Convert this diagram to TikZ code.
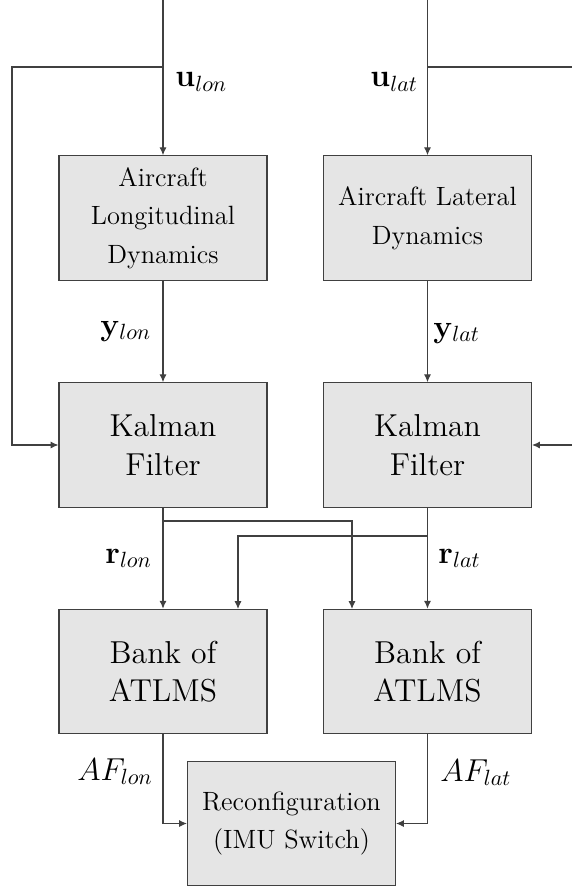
\documentclass[tikz,border=0pt]{standalone}
\usetikzlibrary{arrows.meta}
\begin{document}
\begin{tikzpicture}[x=0.454pt,y=-0.454pt,
  blk/.style={draw=black!75, line width=0.5pt, fill=black!10, align=center,
    inner sep=0pt, minimum width=94.4pt, minimum height=56.5pt},
  smalltxt/.style={font=\fontsize{12}{17.5}\selectfont},
  bigtxt/.style={font=\fontsize{14.4}{17.5}\selectfont},
  lbl/.style={inner sep=0pt, anchor=base west, font=\Large},
  conn/.style={draw=black!75, line width=0.5pt},
  arr/.style={conn, -{Latex[length=3.6pt,width=3.2pt]}}]
\useasboundingbox (0,0) rectangle (572,888);

% blocks
\node[blk, smalltxt] (adlon) at (163,218) {Aircraft\\Longitudinal\\Dynamics};
\node[blk, smalltxt] (adlat) at (427.5,218) {Aircraft Lateral\\Dynamics};
\node[blk, bigtxt] (kflon) at (163,445) {Kalman\\Filter};
\node[blk, bigtxt] (kflat) at (427.5,445) {Kalman\\Filter};
\node[blk, bigtxt] (bklon) at (163,671.5) {Bank of\\ATLMS};
\node[blk, bigtxt] (bklat) at (427.5,671.5) {Bank of\\ATLMS};
\node[blk, smalltxt] (reconf) at (291.5,823.5) {Reconfiguration\\(IMU Switch)};

% free ends and junctions
\coordinate (inlon) at (163,0);
\coordinate (inlat) at (427.5,0);
\coordinate (splon) at (163,67);
\coordinate (splat) at (427.5,67);
\coordinate (lcorner) at (12,67);
\coordinate (redge) at (572,67);
\coordinate (rin) at (572,445);
\coordinate (jlon) at (163,521);
\coordinate (jlat) at (427.5,536);
\coordinate (xlat) at (352,609);
\coordinate (xlon) at (238,609);

% inputs
\draw[arr] (inlon) -- (adlon.north);
\draw[arr] (inlat) -- (adlat.north);
\draw[arr] (splon) -- (lcorner) |- (kflon.west);
\draw[conn] (splat) -- (redge);
\draw[arr] (rin) -- (kflat.east);

% outputs of the dynamics
\draw[arr] (adlon.south) -- (kflon.north);
\draw[arr] (adlat.south) -- (kflat.north);

% residuals
\draw[arr] (kflon.south) -- (bklon.north);
\draw[arr] (kflat.south) -- (bklat.north);
\draw[arr] (jlon) -| (xlat);
\draw[arr] (jlat) -| (xlon);

% fault decisions
\draw[arr] (bklon.south) |- (reconf.west);
\draw[arr] (bklat.south) |- (reconf.east);

% signal labels
\node[lbl] (ulon) at (175,87) {$\mathbf{u}_{lon}$};
\node[lbl] (ulat) at (370,87) {$\mathbf{u}_{lat}$};
\node[lbl] (ylon) at (100,335) {$\mathbf{y}_{lon}$};
\node[lbl] (ylat) at (433,337) {$\mathbf{y}_{lat}$};
\node[lbl] (rlon) at (105,563) {$\mathbf{r}_{lon}$};
\node[lbl] (rlat) at (438,563) {$\mathbf{r}_{lat}$};
\node[lbl] (aflon) at (77,780) {$AF_{lon}$};
\node[lbl] (aflat) at (440,781) {$AF_{lat}$};
\end{tikzpicture}
\end{document}
